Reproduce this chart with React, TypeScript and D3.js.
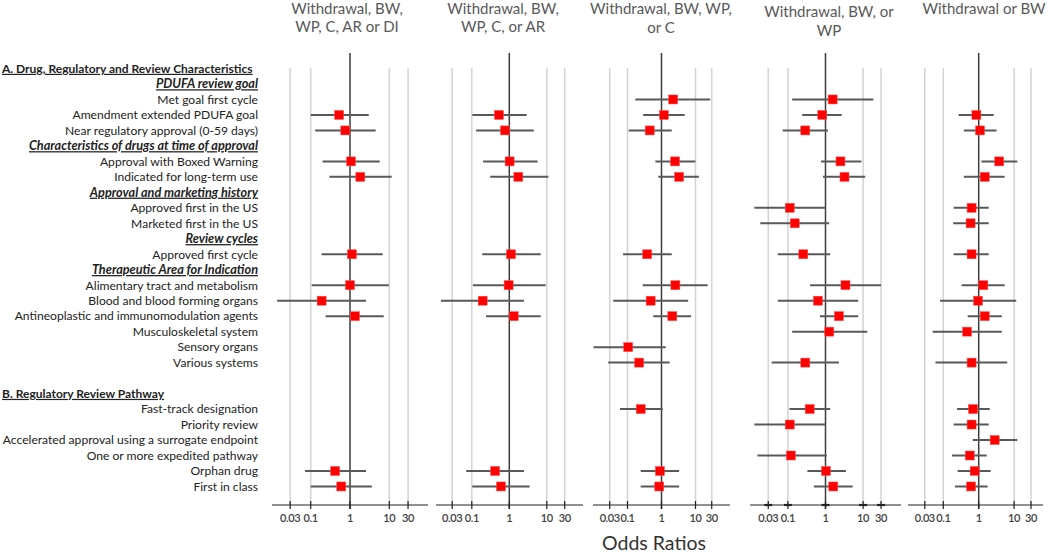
import React from "react";
import * as d3 from "d3";

// ---------- Data ----------
const rowLabels: string[] = [
  "A. Drug, Regulatory and Review Characteristics",
  "PDUFA review goal",
  "Met goal first cycle",
  "Amendment extended PDUFA goal",
  "Near regulatory approval (0-59 days)",
  "Characteristics of drugs at time of approval",
  "Approval with Boxed Warning",
  "Indicated for long-term use",
  "Approval and marketing history",
  "Approved first in the US",
  "Marketed first in the US",
  "Review cycles",
  "Approved first cycle",
  "Therapeutic Area for Indication",
  "Alimentary tract and metabolism",
  "Blood and blood forming organs",
  "Antineoplastic and immunomodulation agents",
  "Musculoskeletal system",
  "Sensory organs",
  "Various systems",
  "",
  "B. Regulatory Review Pathway",
  "Fast-track designation",
  "Priority review",
  "Accelerated approval using a surrogate endpoint",
  "One or more expedited pathway",
  "Orphan drug",
  "First in class",
];
// kind: s = section header, g = group subheader, i = item, b = blank
const rowKinds: string[] = [
  "s", "g", "i", "i", "i", "g", "i", "i", "g", "i", "i", "g", "i", "g",
  "i", "i", "i", "i", "i", "i", "b", "s", "i", "i", "i", "i", "i", "i",
];

const panelTitles: string[][] = [
  ["Withdrawal, BW,", "WP, C, AR or DI"],
  ["Withdrawal, BW,", "WP, C, or AR"],
  ["Withdrawal, BW, WP,", "or C"],
  ["Withdrawal, BW, or", "WP"],
  ["Withdrawal or BW"],
];

const tickValues: number[] = [0.03, 0.1, 1, 10, 30];
const tickLabels: string[] = ["0.03", "0.1", "1", "10", "30"];

// [row label, odds ratio, lower CI, upper CI]
type Est = [string, number, number, number];

const panel1: Est[] = [
  ["Amendment extended PDUFA goal", 0.53, 0.10, 3.0],
  ["Near regulatory approval (0-59 days)", 0.76, 0.13, 4.5],
  ["Approval with Boxed Warning", 1.06, 0.20, 5.7],
  ["Indicated for long-term use", 1.83, 0.30, 11.5],
  ["Approved first cycle", 1.12, 0.19, 6.8],
  ["Alimentary tract and metabolism", 1.0, 0.106, 9.7],
  ["Blood and blood forming organs", 0.19, 0.014, 2.55],
  ["Antineoplastic and immunomodulation agents", 1.34, 0.24, 7.2],
  ["Orphan drug", 0.42, 0.072, 2.55],
  ["First in class", 0.60, 0.10, 3.6],
];

const panel2: Est[] = [
  ["Amendment extended PDUFA goal", 0.53, 0.103, 2.9],
  ["Near regulatory approval (0-59 days)", 0.77, 0.13, 4.5],
  ["Approval with Boxed Warning", 1.02, 0.20, 5.7],
  ["Indicated for long-term use", 1.74, 0.31, 11],
  ["Approved first cycle", 1.11, 0.19, 6.9],
  ["Alimentary tract and metabolism", 0.96, 0.107, 9.3],
  ["Blood and blood forming organs", 0.195, 0.015, 2.46],
  ["Antineoplastic and immunomodulation agents", 1.31, 0.24, 6.9],
  ["Orphan drug", 0.42, 0.071, 2.46],
  ["First in class", 0.60, 0.103, 3.5],
];

const panel3: Est[] = [
  ["Met goal first cycle", 2.2, 0.17, 27],
  ["Amendment extended PDUFA goal", 1.18, 0.29, 4.8],
  ["Near regulatory approval (0-59 days)", 0.45, 0.108, 2.0],
  ["Approval with Boxed Warning", 2.5, 0.66, 9.9],
  ["Indicated for long-term use", 3.3, 0.81, 12.6],
  ["Approved first cycle", 0.38, 0.074, 2.0],
  ["Alimentary tract and metabolism", 2.56, 0.28, 22.8],
  ["Blood and blood forming organs", 0.48, 0.038, 6.1],
  ["Antineoplastic and immunomodulation agents", 2.08, 0.57, 7.4],
  ["Sensory organs", 0.105, 0.010, 1.33],
  ["Various systems", 0.22, 0.027, 1.74],
  ["Fast-track designation", 0.245, 0.06, 1.08],
  ["Orphan drug", 0.90, 0.245, 3.3],
  ["First in class", 0.86, 0.245, 3.3],
];

const panel4: Est[] = [
  ["Met goal first cycle", 1.55, 0.13, 18.7],
  ["Amendment extended PDUFA goal", 0.82, 0.24, 2.7],
  ["Near regulatory approval (0-59 days)", 0.29, 0.073, 1.16],
  ["Approval with Boxed Warning", 2.5, 0.76, 9.0],
  ["Indicated for long-term use", 3.2, 0.86, 11.4],
  ["Approved first in the US", 0.112, 0.0128, 1.0],
  ["Marketed first in the US", 0.152, 0.0185, 1.26],
  ["Approved first cycle", 0.257, 0.054, 1.34],
  ["Alimentary tract and metabolism", 3.4, 0.39, 30],
  ["Blood and blood forming organs", 0.63, 0.054, 7.4],
  ["Antineoplastic and immunomodulation agents", 2.28, 0.71, 7.4],
  ["Musculoskeletal system", 1.26, 0.13, 12.9],
  ["Various systems", 0.29, 0.037, 2.28],
  ["Fast-track designation", 0.38, 0.11, 1.34],
  ["Priority review", 0.112, 0.0128, 1.0],
  ["One or more expedited pathway", 0.12, 0.0155, 1.08],
  ["Orphan drug", 1.03, 0.33, 3.5],
  ["First in class", 1.61, 0.49, 5.3],
];

const panel5: Est[] = [
  ["Amendment extended PDUFA goal", 0.86, 0.27, 2.65],
  ["Near regulatory approval (0-59 days)", 1.09, 0.38, 3.2],
  ["Approval with Boxed Warning", 3.8, 1.19, 12.3],
  ["Indicated for long-term use", 1.48, 0.38, 5.4],
  ["Approved first in the US", 0.63, 0.196, 1.92],
  ["Marketed first in the US", 0.59, 0.19, 1.92],
  ["Approved first cycle", 0.63, 0.196, 1.92],
  ["Alimentary tract and metabolism", 1.35, 0.33, 5.4],
  ["Blood and blood forming organs", 0.96, 0.081, 11.5],
  ["Antineoplastic and immunomodulation agents", 1.48, 0.49, 4.5],
  ["Musculoskeletal system", 0.47, 0.05, 4.5],
  ["Various systems", 0.63, 0.06, 6.4],
  ["Fast-track designation", 0.69, 0.245, 2.05],
  ["Priority review", 0.63, 0.196, 1.92],
  ["Accelerated approval using a surrogate endpoint", 2.83, 0.68, 12.3],
  ["One or more expedited pathway", 0.56, 0.176, 1.68],
  ["Orphan drug", 0.77, 0.255, 2.18],
  ["First in class", 0.61, 0.214, 1.79],
];

const panelData: Est[][] = [panel1, panel2, panel3, panel4, panel5];

// ---------- Layout ----------
const W = 1050;
const H = 555;
const domain: [number, number] = [0.01, 100];
const panelRanges: [number, number][] = [
  [271.4, 428.6],
  [434.3, 584.3],
  [593.5, 729.5],
  [750.3, 900.7],
  [907.9, 1049.5],
];
const axisExtents: [number, number][] = [
  [272, 428],
  [436, 583],
  [593, 730],
  [750, 901],
  [908, 1043],
];
const titleY: number[][] = [
  [8.5, 26.5],
  [8.5, 26.5],
  [8.5, 27.5],
  [11, 30.5],
  [8.5],
];
const titleX: number[] = [347, 503, 661, 829, 984];

const rowY0 = 68.5;
const rowStep = 15.48;
const axisY = 505;
const gridTop = 68;
const refTop = 53;
const labelRight = 258;
const font = "Lato, 'Open Sans', sans-serif";

export default function App() {
  const y = d3
    .scaleLinear()
    .domain([0, 1])
    .range([rowY0, rowY0 + rowStep]);
  const rowIndex = new Map(rowLabels.map((l, i) => [l, i]));
  const scales = panelRanges.map((r) => d3.scaleLog().domain(domain).range(r));

  return (
    <svg
      width={W}
      height={H}
      style={{ position: "absolute", left: 0, top: 0, background: "#fff" }}
      fontFamily={font}
    >
      {/* Row labels */}
      {rowLabels.map((label, i) => {
        const kind = rowKinds[i];
        if (kind === "b") return null;
        const yy = y(i) + 4.3;
        if (kind === "s") {
          return (
            <text
              key={i}
              x={2}
              y={yy}
              fontSize={12}
              fontWeight="bold"
              textDecoration="underline"
              fill="#222"
            >
              {label}
            </text>
          );
        }
        if (kind === "g") {
          return (
            <text
              key={i}
              x={labelRight}
              y={yy}
              fontSize={12.7}
              fontWeight="bold"
              fontStyle="italic"
              textDecoration="underline"
              textAnchor="end"
              fill="#222"
            >
              {label}
            </text>
          );
        }
        return (
          <text key={i} x={labelRight} y={yy} fontSize={12.1} textAnchor="end" fill="#222">
            {label}
          </text>
        );
      })}

      {scales.map((x, p) => (
        <g key={p}>
          {/* Titles */}
          {panelTitles[p].map((t, k) => (
            <text
              key={k}
              x={titleX[p]}
              y={titleY[p][k] + 5.5}
              fontSize={15}
              textAnchor="middle"
              fill="#595959"
            >
              {t}
            </text>
          ))}
          {/* Grid lines */}
          {tickValues
            .filter((v) => v !== 1)
            .map((v) => (
              <line
                key={v}
                x1={x(v)}
                x2={x(v)}
                y1={gridTop}
                y2={axisY}
                stroke="#d3d3d3"
                strokeWidth={1.5}
              />
            ))}
          {/* Reference line at OR = 1 */}
          <line
            x1={x(1)}
            x2={x(1)}
            y1={refTop}
            y2={axisY + 4}
            stroke="#3c3c3c"
            strokeWidth={1.5}
          />
          {/* Axis */}
          <line
            x1={axisExtents[p][0]}
            x2={axisExtents[p][1]}
            y1={axisY}
            y2={axisY}
            stroke="#222"
            strokeWidth={1}
          />
          {tickValues.map((v, k) => (
            <g key={v}>
              <line
                x1={x(v)}
                x2={x(v)}
                y1={axisY - 4}
                y2={axisY + 4}
                stroke="#222"
                strokeWidth={1.2}
              />
              {p === 3 && (
                <line
                  x1={x(v) - 4}
                  x2={x(v) + 4}
                  y1={axisY}
                  y2={axisY}
                  stroke="#222"
                  strokeWidth={2.2}
                />
              )}
              <text
                x={x(v)}
                y={axisY + 16.5}
                fontSize={11}
                fontWeight={600}
                letterSpacing={-0.4}
                textAnchor="middle"
                fill="#404040"
              >
                {tickLabels[k]}
              </text>
            </g>
          ))}
          {/* Estimates */}
          {panelData[p].map(([label, or, lo, hi]) => {
            const i = rowIndex.get(label) ?? 0;
            const yy = y(i);
            return (
              <g key={label}>
                <line
                  x1={x(lo)}
                  x2={x(hi)}
                  y1={yy}
                  y2={yy}
                  stroke="#595959"
                  strokeWidth={2}
                />
                <rect
                  x={x(or) - 4.5}
                  y={yy - 4.5}
                  width={9}
                  height={9}
                  fill="#ff0000"
                  stroke="#ff5050"
                  strokeWidth={0.5}
                />
              </g>
            );
          })}
        </g>
      ))}

      <text x={654} y={550} fontSize={19.5} textAnchor="middle" fill="#333">
        Odds Ratios
      </text>
    </svg>
  );
}
